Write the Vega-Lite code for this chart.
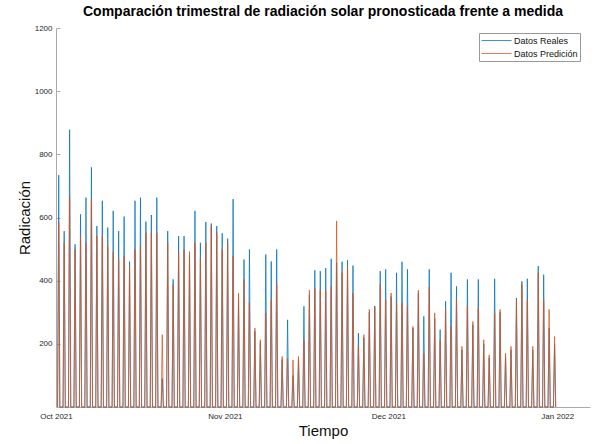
{
"$schema": "https://vega.github.io/schema/vega-lite/v6.json",
"width": 534, "height": 379,
"autosize": {"type": "none"},
"padding": {"left": 56, "top": 28, "right": 7, "bottom": 37},
"title": {"text": "Comparación trimestral de radiación solar pronosticada frente a medida", "fontSize": 14, "fontWeight": "bold", "color": "#000", "anchor": "middle", "offset": 5},
"config": {"view": {"stroke": null}, "font": "Liberation Sans",
 "axis": {"labelFontSize": 8, "labelColor": "#262626", "domainColor": "#aaa", "tickColor": "#aaa", "grid": false, "titleFontWeight": "normal", "titleFontSize": 15, "titleColor": "#111"}},
"datasets": {"d": [
{"t":"2021-10-01T07:00","real":0,"pred":0},{"t":"2021-10-01T12:00","real":734,"pred":584},{"t":"2021-10-01T17:00","real":0,"pred":0},
{"t":"2021-10-02T07:00","real":0,"pred":0},{"t":"2021-10-02T12:00","real":557,"pred":520},{"t":"2021-10-02T17:00","real":0,"pred":0},
{"t":"2021-10-03T07:00","real":0,"pred":0},{"t":"2021-10-03T12:00","real":878,"pred":669},{"t":"2021-10-03T17:00","real":0,"pred":0},
{"t":"2021-10-04T07:00","real":0,"pred":0},{"t":"2021-10-04T12:00","real":515,"pred":500},{"t":"2021-10-04T17:00","real":0,"pred":0},
{"t":"2021-10-05T07:00","real":0,"pred":0},{"t":"2021-10-05T12:00","real":610,"pred":541},{"t":"2021-10-05T17:00","real":0,"pred":0},
{"t":"2021-10-06T07:00","real":0,"pred":0},{"t":"2021-10-06T12:00","real":663,"pred":520},{"t":"2021-10-06T17:00","real":0,"pred":0},
{"t":"2021-10-07T07:00","real":0,"pred":0},{"t":"2021-10-07T12:00","real":759,"pred":658},{"t":"2021-10-07T17:00","real":0,"pred":0},
{"t":"2021-10-08T07:00","real":0,"pred":0},{"t":"2021-10-08T12:00","real":573,"pred":541},{"t":"2021-10-08T17:00","real":0,"pred":0},
{"t":"2021-10-09T07:00","real":0,"pred":0},{"t":"2021-10-09T12:00","real":653,"pred":541},{"t":"2021-10-09T17:00","real":0,"pred":0},
{"t":"2021-10-10T07:00","real":0,"pred":0},{"t":"2021-10-10T12:00","real":568,"pred":510},{"t":"2021-10-10T17:00","real":0,"pred":0},
{"t":"2021-10-11T07:00","real":0,"pred":0},{"t":"2021-10-11T12:00","real":621,"pred":489},{"t":"2021-10-11T17:00","real":0,"pred":0},
{"t":"2021-10-12T07:00","real":0,"pred":0},{"t":"2021-10-12T12:00","real":557,"pred":467},{"t":"2021-10-12T17:00","real":0,"pred":0},
{"t":"2021-10-13T07:00","real":0,"pred":0},{"t":"2021-10-13T12:00","real":603,"pred":478},{"t":"2021-10-13T17:00","real":0,"pred":0},
{"t":"2021-10-14T07:00","real":0,"pred":0},{"t":"2021-10-14T12:00","real":460,"pred":446},{"t":"2021-10-14T17:00","real":0,"pred":0},
{"t":"2021-10-15T07:00","real":0,"pred":0},{"t":"2021-10-15T12:00","real":653,"pred":499},{"t":"2021-10-15T17:00","real":0,"pred":0},
{"t":"2021-10-16T07:00","real":0,"pred":0},{"t":"2021-10-16T12:00","real":663,"pred":510},{"t":"2021-10-16T17:00","real":0,"pred":0},
{"t":"2021-10-17T07:00","real":0,"pred":0},{"t":"2021-10-17T12:00","real":587,"pred":552},{"t":"2021-10-17T17:00","real":0,"pred":0},
{"t":"2021-10-18T07:00","real":0,"pred":0},{"t":"2021-10-18T12:00","real":608,"pred":552},{"t":"2021-10-18T17:00","real":0,"pred":0},
{"t":"2021-10-19T07:00","real":0,"pred":0},{"t":"2021-10-19T12:00","real":663,"pred":552},{"t":"2021-10-19T17:00","real":0,"pred":0},
{"t":"2021-10-20T07:00","real":0,"pred":0},{"t":"2021-10-20T12:00","real":90,"pred":229},{"t":"2021-10-20T17:00","real":0,"pred":0},
{"t":"2021-10-21T07:00","real":0,"pred":0},{"t":"2021-10-21T12:00","real":557,"pred":520},{"t":"2021-10-21T17:00","real":0,"pred":0},
{"t":"2021-10-22T07:00","real":0,"pred":0},{"t":"2021-10-22T12:00","real":404,"pred":388},{"t":"2021-10-22T17:00","real":0,"pred":0},
{"t":"2021-10-23T07:00","real":0,"pred":0},{"t":"2021-10-23T12:00","real":541,"pred":489},{"t":"2021-10-23T17:00","real":0,"pred":0},
{"t":"2021-10-24T07:00","real":0,"pred":0},{"t":"2021-10-24T12:00","real":541,"pred":499},{"t":"2021-10-24T17:00","real":0,"pred":0},
{"t":"2021-10-25T07:00","real":0,"pred":0},{"t":"2021-10-25T12:00","real":480,"pred":492},{"t":"2021-10-25T17:00","real":0,"pred":0},
{"t":"2021-10-26T07:00","real":0,"pred":0},{"t":"2021-10-26T12:00","real":621,"pred":520},{"t":"2021-10-26T17:00","real":0,"pred":0},
{"t":"2021-10-27T07:00","real":0,"pred":0},{"t":"2021-10-27T12:00","real":520,"pred":470},{"t":"2021-10-27T17:00","real":0,"pred":0},
{"t":"2021-10-28T07:00","real":0,"pred":0},{"t":"2021-10-28T12:00","real":586,"pred":520},{"t":"2021-10-28T17:00","real":0,"pred":0},
{"t":"2021-10-29T07:00","real":0,"pred":0},{"t":"2021-10-29T12:00","real":581,"pred":573},{"t":"2021-10-29T17:00","real":0,"pred":0},
{"t":"2021-10-30T07:00","real":0,"pred":0},{"t":"2021-10-30T12:00","real":573,"pred":552},{"t":"2021-10-30T17:00","real":0,"pred":0},
{"t":"2021-10-31T07:00","real":0,"pred":0},{"t":"2021-10-31T12:00","real":550,"pred":499},{"t":"2021-10-31T17:00","real":0,"pred":0},
{"t":"2021-11-01T07:00","real":0,"pred":0},{"t":"2021-11-01T12:00","real":533,"pred":520},{"t":"2021-11-01T17:00","real":0,"pred":0},
{"t":"2021-11-02T07:00","real":0,"pred":0},{"t":"2021-11-02T12:00","real":658,"pred":478},{"t":"2021-11-02T17:00","real":0,"pred":0},
{"t":"2021-11-03T07:00","real":0,"pred":0},{"t":"2021-11-03T12:00","real":340,"pred":361},{"t":"2021-11-03T17:00","real":0,"pred":0},
{"t":"2021-11-04T07:00","real":0,"pred":0},{"t":"2021-11-04T12:00","real":467,"pred":404},{"t":"2021-11-04T17:00","real":0,"pred":0},
{"t":"2021-11-05T07:00","real":0,"pred":0},{"t":"2021-11-05T12:00","real":499,"pred":330},{"t":"2021-11-05T17:00","real":0,"pred":0},
{"t":"2021-11-06T07:00","real":0,"pred":0},{"t":"2021-11-06T12:00","real":240,"pred":250},{"t":"2021-11-06T17:00","real":0,"pred":0},
{"t":"2021-11-07T07:00","real":0,"pred":0},{"t":"2021-11-07T12:00","real":205,"pred":213},{"t":"2021-11-07T17:00","real":0,"pred":0},
{"t":"2021-11-08T07:00","real":0,"pred":0},{"t":"2021-11-08T12:00","real":483,"pred":298},{"t":"2021-11-08T17:00","real":0,"pred":0},
{"t":"2021-11-09T07:00","real":0,"pred":0},{"t":"2021-11-09T12:00","real":461,"pred":340},{"t":"2021-11-09T17:00","real":0,"pred":0},
{"t":"2021-11-10T07:00","real":0,"pred":0},{"t":"2021-11-10T12:00","real":499,"pred":388},{"t":"2021-11-10T17:00","real":0,"pred":0},
{"t":"2021-11-11T07:00","real":0,"pred":0},{"t":"2021-11-11T12:00","real":150,"pred":160},{"t":"2021-11-11T17:00","real":0,"pred":0},
{"t":"2021-11-12T07:00","real":0,"pred":0},{"t":"2021-11-12T12:00","real":276,"pred":154},{"t":"2021-11-12T17:00","real":0,"pred":0},
{"t":"2021-11-13T07:00","real":0,"pred":0},{"t":"2021-11-13T12:00","real":100,"pred":149},{"t":"2021-11-13T17:00","real":0,"pred":0},
{"t":"2021-11-14T07:00","real":0,"pred":0},{"t":"2021-11-14T12:00","real":150,"pred":160},{"t":"2021-11-14T17:00","real":0,"pred":0},
{"t":"2021-11-15T07:00","real":0,"pred":0},{"t":"2021-11-15T12:00","real":319,"pred":213},{"t":"2021-11-15T17:00","real":0,"pred":0},
{"t":"2021-11-16T07:00","real":0,"pred":0},{"t":"2021-11-16T12:00","real":355,"pred":370},{"t":"2021-11-16T17:00","real":0,"pred":0},
{"t":"2021-11-17T07:00","real":0,"pred":0},{"t":"2021-11-17T12:00","real":433,"pred":377},{"t":"2021-11-17T17:00","real":0,"pred":0},
{"t":"2021-11-18T07:00","real":0,"pred":0},{"t":"2021-11-18T12:00","real":430,"pred":370},{"t":"2021-11-18T17:00","real":0,"pred":0},
{"t":"2021-11-19T07:00","real":0,"pred":0},{"t":"2021-11-19T12:00","real":440,"pred":370},{"t":"2021-11-19T17:00","real":0,"pred":0},
{"t":"2021-11-20T07:00","real":0,"pred":0},{"t":"2021-11-20T12:00","real":469,"pred":382},{"t":"2021-11-20T17:00","real":0,"pred":0},
{"t":"2021-11-21T07:00","real":0,"pred":0},{"t":"2021-11-21T12:00","real":457,"pred":589},{"t":"2021-11-21T17:00","real":0,"pred":0},
{"t":"2021-11-22T07:00","real":0,"pred":0},{"t":"2021-11-22T12:00","real":460,"pred":425},{"t":"2021-11-22T17:00","real":0,"pred":0},
{"t":"2021-11-23T07:00","real":0,"pred":0},{"t":"2021-11-23T12:00","real":465,"pred":446},{"t":"2021-11-23T17:00","real":0,"pred":0},
{"t":"2021-11-24T07:00","real":0,"pred":0},{"t":"2021-11-24T12:00","real":448,"pred":361},{"t":"2021-11-24T17:00","real":0,"pred":0},
{"t":"2021-11-25T07:00","real":0,"pred":0},{"t":"2021-11-25T12:00","real":234,"pred":192},{"t":"2021-11-25T17:00","real":0,"pred":0},
{"t":"2021-11-26T07:00","real":0,"pred":0},{"t":"2021-11-26T12:00","real":220,"pred":229},{"t":"2021-11-26T17:00","real":0,"pred":0},
{"t":"2021-11-27T07:00","real":0,"pred":0},{"t":"2021-11-27T12:00","real":300,"pred":309},{"t":"2021-11-27T17:00","real":0,"pred":0},
{"t":"2021-11-28T07:00","real":0,"pred":0},{"t":"2021-11-28T12:00","real":320,"pred":315},{"t":"2021-11-28T17:00","real":0,"pred":0},
{"t":"2021-11-29T07:00","real":0,"pred":0},{"t":"2021-11-29T12:00","real":430,"pred":388},{"t":"2021-11-29T17:00","real":0,"pred":0},
{"t":"2021-11-30T07:00","real":0,"pred":0},{"t":"2021-11-30T12:00","real":436,"pred":340},{"t":"2021-11-30T17:00","real":0,"pred":0},
{"t":"2021-12-01T07:00","real":0,"pred":0},{"t":"2021-12-01T12:00","real":350,"pred":361},{"t":"2021-12-01T17:00","real":0,"pred":0},
{"t":"2021-12-02T07:00","real":0,"pred":0},{"t":"2021-12-02T12:00","real":425,"pred":330},{"t":"2021-12-02T17:00","real":0,"pred":0},
{"t":"2021-12-03T07:00","real":0,"pred":0},{"t":"2021-12-03T12:00","real":460,"pred":330},{"t":"2021-12-03T17:00","real":0,"pred":0},
{"t":"2021-12-04T07:00","real":0,"pred":0},{"t":"2021-12-04T12:00","real":436,"pred":319},{"t":"2021-12-04T17:00","real":0,"pred":0},
{"t":"2021-12-05T07:00","real":0,"pred":0},{"t":"2021-12-05T12:00","real":250,"pred":255},{"t":"2021-12-05T17:00","real":0,"pred":0},
{"t":"2021-12-06T07:00","real":0,"pred":0},{"t":"2021-12-06T12:00","real":360,"pred":370},{"t":"2021-12-06T17:00","real":0,"pred":0},
{"t":"2021-12-07T07:00","real":0,"pred":0},{"t":"2021-12-07T12:00","real":287,"pred":170},{"t":"2021-12-07T17:00","real":0,"pred":0},
{"t":"2021-12-08T07:00","real":0,"pred":0},{"t":"2021-12-08T12:00","real":436,"pred":380},{"t":"2021-12-08T17:00","real":0,"pred":0},
{"t":"2021-12-09T07:00","real":0,"pred":0},{"t":"2021-12-09T12:00","real":280,"pred":298},{"t":"2021-12-09T17:00","real":0,"pred":0},
{"t":"2021-12-10T07:00","real":0,"pred":0},{"t":"2021-12-10T12:00","real":245,"pred":213},{"t":"2021-12-10T17:00","real":0,"pred":0},
{"t":"2021-12-11T07:00","real":0,"pred":0},{"t":"2021-12-11T12:00","real":335,"pred":309},{"t":"2021-12-11T17:00","real":0,"pred":0},
{"t":"2021-12-12T07:00","real":0,"pred":0},{"t":"2021-12-12T12:00","real":425,"pred":255},{"t":"2021-12-12T17:00","real":0,"pred":0},
{"t":"2021-12-13T07:00","real":0,"pred":0},{"t":"2021-12-13T12:00","real":382,"pred":340},{"t":"2021-12-13T17:00","real":0,"pred":0},
{"t":"2021-12-14T07:00","real":0,"pred":0},{"t":"2021-12-14T12:00","real":180,"pred":192},{"t":"2021-12-14T17:00","real":0,"pred":0},
{"t":"2021-12-15T07:00","real":0,"pred":0},{"t":"2021-12-15T12:00","real":404,"pred":319},{"t":"2021-12-15T17:00","real":0,"pred":0},
{"t":"2021-12-16T07:00","real":0,"pred":0},{"t":"2021-12-16T12:00","real":260,"pred":271},{"t":"2021-12-16T17:00","real":0,"pred":0},
{"t":"2021-12-17T07:00","real":0,"pred":0},{"t":"2021-12-17T12:00","real":404,"pred":314},{"t":"2021-12-17T17:00","real":0,"pred":0},
{"t":"2021-12-18T07:00","real":0,"pred":0},{"t":"2021-12-18T12:00","real":200,"pred":213},{"t":"2021-12-18T17:00","real":0,"pred":0},
{"t":"2021-12-19T07:00","real":0,"pred":0},{"t":"2021-12-19T12:00","real":155,"pred":165},{"t":"2021-12-19T17:00","real":0,"pred":0},
{"t":"2021-12-20T07:00","real":0,"pred":0},{"t":"2021-12-20T12:00","real":406,"pred":298},{"t":"2021-12-20T17:00","real":0,"pred":0},
{"t":"2021-12-21T07:00","real":0,"pred":0},{"t":"2021-12-21T12:00","real":300,"pred":309},{"t":"2021-12-21T17:00","real":0,"pred":0},
{"t":"2021-12-22T07:00","real":0,"pred":0},{"t":"2021-12-22T12:00","real":160,"pred":170},{"t":"2021-12-22T17:00","real":0,"pred":0},
{"t":"2021-12-23T07:00","real":0,"pred":0},{"t":"2021-12-23T12:00","real":180,"pred":192},{"t":"2021-12-23T17:00","real":0,"pred":0},
{"t":"2021-12-24T07:00","real":0,"pred":0},{"t":"2021-12-24T12:00","real":345,"pred":340},{"t":"2021-12-24T17:00","real":0,"pred":0},
{"t":"2021-12-25T07:00","real":0,"pred":0},{"t":"2021-12-25T12:00","real":398,"pred":388},{"t":"2021-12-25T17:00","real":0,"pred":0},
{"t":"2021-12-26T07:00","real":0,"pred":0},{"t":"2021-12-26T12:00","real":406,"pred":340},{"t":"2021-12-26T17:00","real":0,"pred":0},
{"t":"2021-12-27T07:00","real":0,"pred":0},{"t":"2021-12-27T12:00","real":180,"pred":192},{"t":"2021-12-27T17:00","real":0,"pred":0},
{"t":"2021-12-28T07:00","real":0,"pred":0},{"t":"2021-12-28T12:00","real":446,"pred":425},{"t":"2021-12-28T17:00","real":0,"pred":0},
{"t":"2021-12-29T07:00","real":0,"pred":0},{"t":"2021-12-29T12:00","real":419,"pred":340},{"t":"2021-12-29T17:00","real":0,"pred":0},
{"t":"2021-12-30T07:00","real":0,"pred":0},{"t":"2021-12-30T12:00","real":250,"pred":309},{"t":"2021-12-30T17:00","real":0,"pred":0},
{"t":"2021-12-31T07:00","real":0,"pred":0},{"t":"2021-12-31T12:00","real":200,"pred":223},{"t":"2021-12-31T17:00","real":0,"pred":0}
]},
"data": {"name": "d"},
"transform": [{"fold": ["real", "pred"], "as": ["serie", "valor"]}],
"encoding": {
 "x": {"field": "t", "type": "temporal",
  "scale": {"domain": [{"year": 2021, "month": "oct", "date": 1}, {"year": 2022, "month": "jan", "date": 7}]},
  "axis": {"title": "Tiempo", "format": "%b %Y", "ticks": false, "labelPadding": 5, "titlePadding": 3, "labelFlush": false, "labelAlign": "center",
   "values": [{"year": 2021, "month": "oct", "date": 1}, {"year": 2021, "month": "nov", "date": 1}, {"year": 2021, "month": "dec", "date": 1}, {"year": 2022, "month": "jan", "date": 1}]}},
 "y": {"field": "valor", "type": "quantitative", "scale": {"domain": [0, 1200], "nice": false},
  "axis": {"title": "Radicación", "format": "d", "values": [200, 400, 600, 800, 1000, 1200], "tickSize": -4, "labelPadding": 8, "titlePadding": 2}},
 "color": {"field": "serie", "type": "nominal",
  "scale": {"domain": ["real", "pred"], "range": ["#0072BD", "#D95319"]},
  "legend": {"title": null, "orient": "none", "legendX": 423, "legendY": 5, "symbolType": "M-3,0H3", "symbolSize": 100, "symbolOffset": 10, "symbolStrokeWidth": 1, "labelFontSize": 9, "labelColor": "#111", "labelOffset": 12, "rowPadding": 2, "padding": 2, "strokeColor": "#999", "fillColor": "white",
   "labelExpr": "datum.label == 'real' ? 'Datos Reales' : 'Datos Predición'"}}
},
"layer": [
 {"transform": [{"filter": "datum.serie == 'real'"}], "mark": {"type": "line", "strokeWidth": 1, "opacity": 0.75}},
 {"transform": [{"filter": "datum.serie == 'pred'"}], "mark": {"type": "line", "strokeWidth": 1, "opacity": 0.75}}
]
}
